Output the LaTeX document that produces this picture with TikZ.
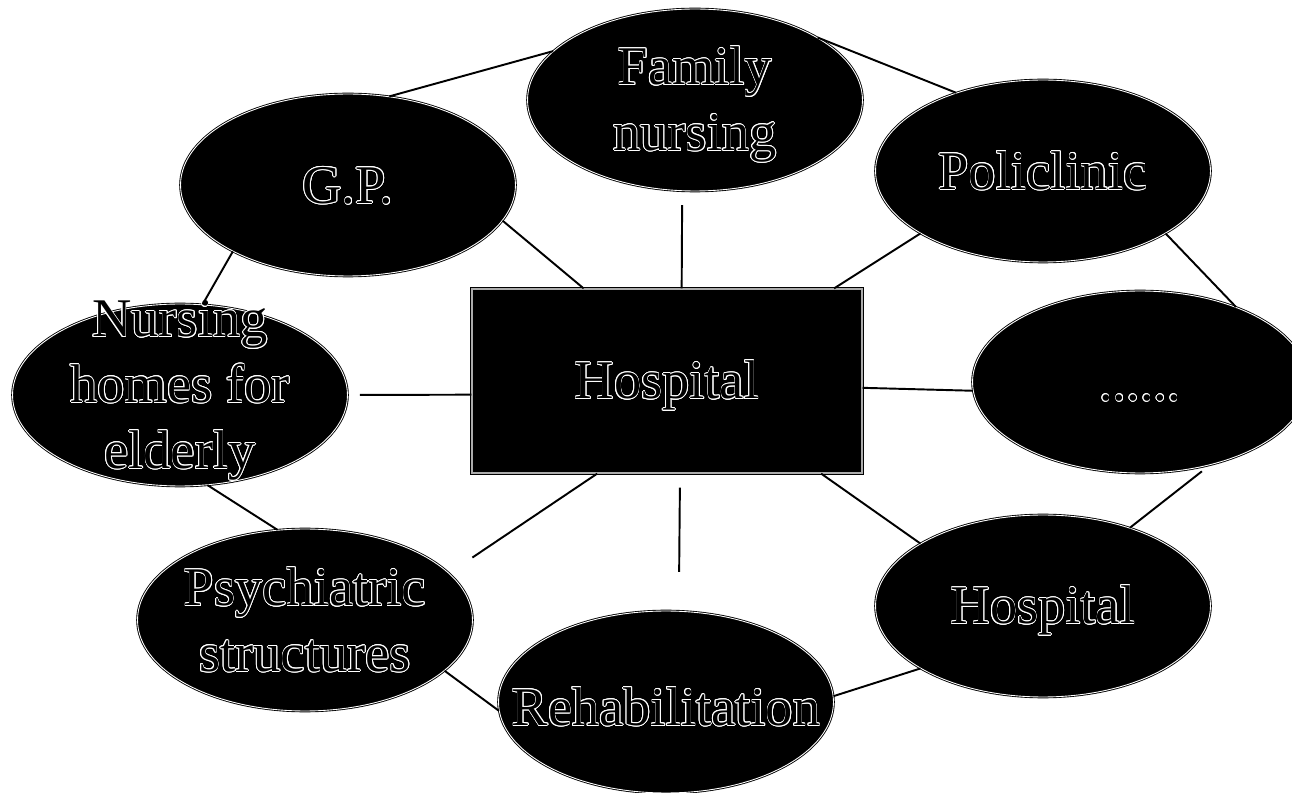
\documentclass[tikz,border=0pt]{standalone}
\usepackage{fontspec}
\setmainfont{Liberation Serif}
\usepackage[copies]{contour}
\usetikzlibrary{shapes.geometric}
\contourlength{0.4pt}
\newcommand{\hollow}[1]{\rule[-6pt]{0pt}{33pt}\contour{white}{#1}}

\begin{document}
\begin{tikzpicture}[x=0.02cm,y=-0.02cm,line width=1.1pt,
  oval/.style={ellipse,draw=black,line width=0.5pt,double=white,double distance=0.5pt,
    fill=black,minimum width=6.7cm,minimum height=3.64cm,inner sep=0pt},
  box/.style={rectangle,draw=black,line width=0.7pt,double=gray!65,double distance=1pt,
    fill=black,minimum width=7.8cm,minimum height=3.68cm},
  txt/.style={text=black,align=center,font=\fontsize{31}{37.5}\selectfont}]
  \useasboundingbox (0,0) rectangle (1292,793);

  \node[box,txt] 	(hosp) at (667,381) 	{\hollow{Hospital}};
  \node[oval,label={[txt]center:\hollow{Family}\\\hollow{nursing}}] 	(fam) at (695,100) {};
  \node[oval,label={[txt]center:\hollow{G.P.}}] 		(gp) at (348,185) {};
  \node[oval,label={[txt]center:\hollow{Policlinic}}] 	(poli) at (1043,171) {};
  \node[oval,label={[txt,yshift=0.2cm]center:\hollow{Nursing}\\\hollow{homes for}\\\hollow{elderly}}] 	(nurs) at (180,395) {};
  \node[oval,label={[txt]center:\hollow{......}}] 		(dots) at (1140,382) {};
  \node[oval,label={[txt]center:\hollow{Psychiatric}\\\hollow{structures}}] 	(psych) at (305,620) {};
  \node[oval,label={[txt,yshift=-0.1cm]center:\hollow{Rehabilitation}}] 	(rehab) at (666,702) {};
  \node[oval,label={[txt]center:\hollow{Hospital}}] 	(hosp2) at (1043,606) {};

  % spokes
  \path 	(gp.-13) edge (hosp.132)
		(fam.-98) edge [shorten <=0.28cm] (hosp.81)
		(poli.207) edge (hosp.29)
		(nurs.east) edge [shorten <=0.24cm] (hosp.184)
		(hosp.-2) edge (dots.183)
		(hosp.233) edge [shorten >=0.56cm] (psych.18)
		(hosp.-82) edge [shorten <=0.28cm,shorten >=0.78cm] (rehab.82)
		(hosp.-31) edge (hosp2.153);

  % ring
  \path 	(fam.161) edge (gp.65)
		(fam.27) edge (poli.138)
		(poli.-27) edge (dots.38)
		(dots.-50) edge [shorten <=0.2cm] (hosp2.42.5)
		(hosp2.207) edge (rehab.2)
		(rehab.183) edge (psych.-20)
		(psych.107) edge (nurs.-73)
		(nurs.76) edge (gp.210);
\end{tikzpicture}
\end{document}
